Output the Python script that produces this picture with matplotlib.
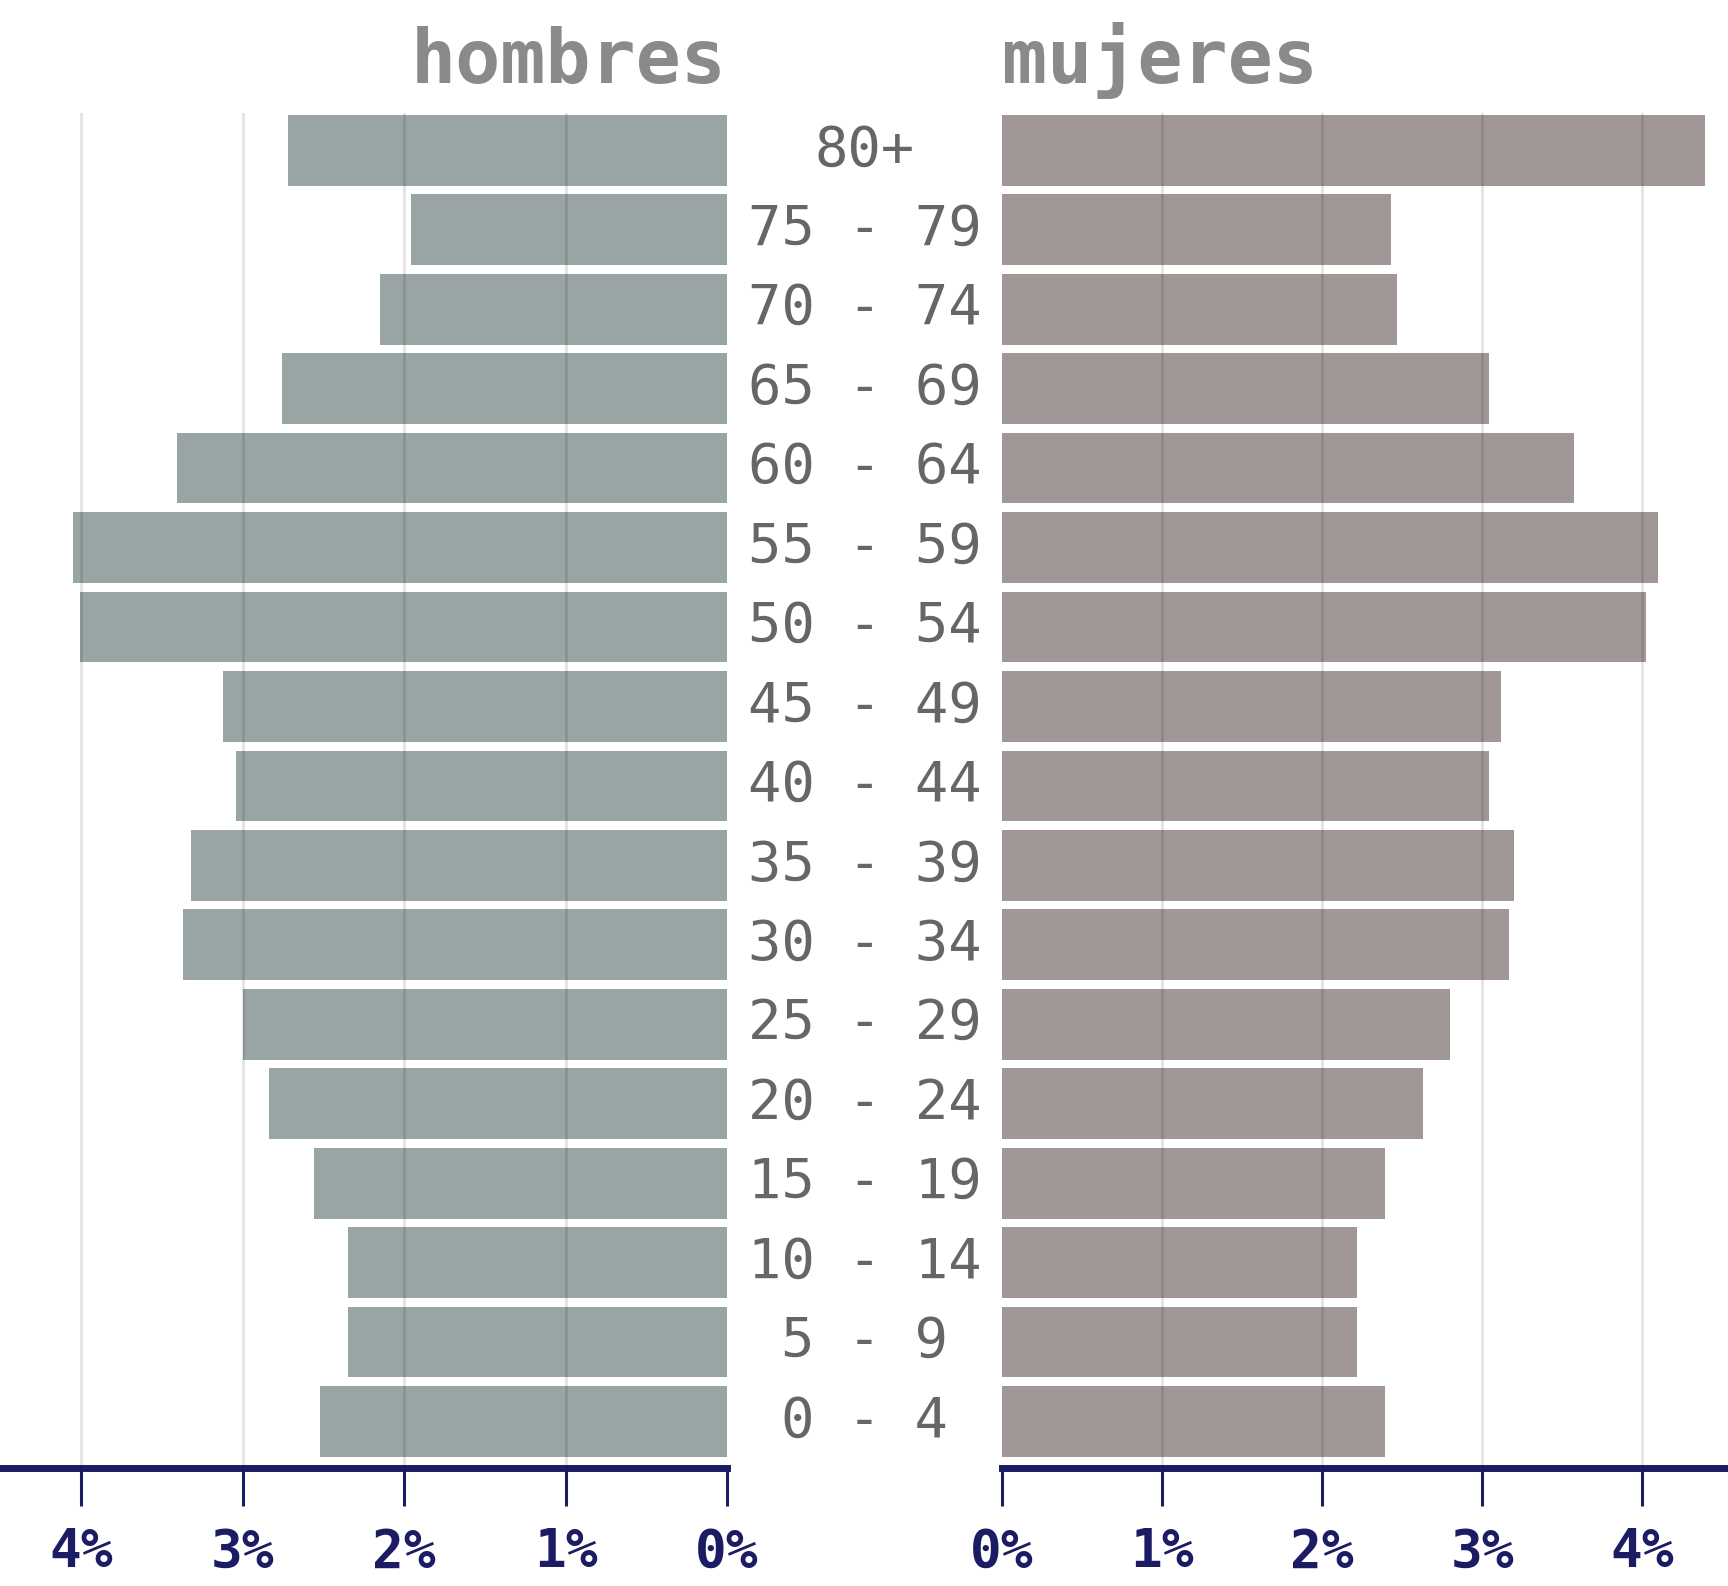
import matplotlib
matplotlib.use("Agg")
import matplotlib.pyplot as plt
from matplotlib.transforms import blended_transform_factory

age_groups = ["0 - 4", "5 - 9", "10 - 14", "15 - 19", "20 - 24", "25 - 29", "30 - 34",
              "35 - 39", "40 - 44", "45 - 49", "50 - 54", "55 - 59", "60 - 64",
              "65 - 69", "70 - 74", "75 - 79", "80+"]
hombres = [2.52, 2.35, 2.35, 2.56, 2.84, 3.00, 3.37, 3.32, 3.04, 3.12, 4.01, 4.05,
           3.41, 2.76, 2.15, 1.96, 2.72]
mujeres = [2.39, 2.22, 2.22, 2.39, 2.63, 2.80, 3.17, 3.20, 3.04, 3.12, 4.02, 4.10,
           3.57, 3.04, 2.47, 2.43, 4.39]
ticks = [0, 1, 2, 3, 4]
tick_labels = ["0%", "1%", "2%", "3%", "4%"]

W, H = 1728, 1586
fig = plt.figure(figsize=(W / 100, H / 100), dpi=100)

male_c = "#99a5a4"
female_c = "#a29797"
navy = "#1c1c64"
mono = ["DejaVu Sans Mono"]

bottom = 1 - 1468 / H
top = 1 - 113 / H
axL = fig.add_axes([0, bottom, 727 / W, top - bottom])
axR = fig.add_axes([1002 / W, bottom, (W - 1002) / W, top - bottom])

y = list(range(len(age_groups)))
for ax, vals, col, xmax in [(axL, hombres, male_c, 4.504), (axR, mujeres, female_c, 4.535)]:
    ax.barh(y, vals, height=0.89, color=col, zorder=2)
    for t in ticks[1:]:
        ax.axvline(t, color="black", alpha=0.11, lw=2, zorder=3)
    ax.set_ylim(-0.585, 16.47)
    ax.set_yticks([])
    for s in ["left", "right", "top"]:
        ax.spines[s].set_visible(False)
    ax.spines["bottom"].set_color(navy)
    ax.spines["bottom"].set_linewidth(5)
    ax.set_xticks(ticks)
    ax.set_xticklabels(tick_labels, family=mono, fontweight="bold", fontsize=38, color=navy)
    ax.tick_params(axis="x", length=27, width=2.2, color=navy, pad=15)
    ax.patch.set_alpha(0)

axL.set_xlim(4.504, 0)
axR.set_xlim(0, 4.535)

tr = blended_transform_factory(fig.transFigure, axR.transData)
for yi, lab in zip(y, age_groups):
    fig.text(864.5 / W, yi, lab, transform=tr, ha="center", va="center",
             family=mono, fontsize=40, color="#666666")

fig.text(727 / W, 1 - 83 / H, "hombres", ha="right", va="baseline",
         family=mono, fontweight="bold", fontsize=54, color="#8a8a8a")
fig.text(1002 / W, 1 - 83 / H, "mujeres", ha="left", va="baseline",
         family=mono, fontweight="bold", fontsize=54, color="#8a8a8a")

fig.savefig("out.png", dpi=100)
